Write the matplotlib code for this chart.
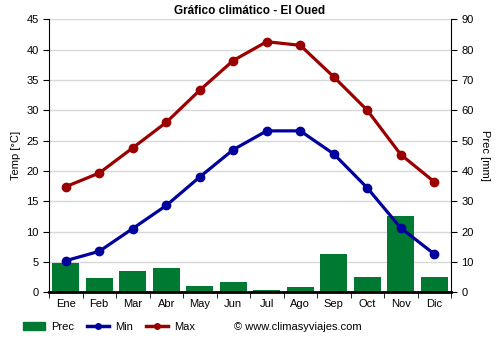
import matplotlib.pyplot as plt
import numpy as np
from matplotlib.patches import Patch
from matplotlib.lines import Line2D

plt.rcParams['font.family'] = ['Liberation Sans', 'DejaVu Sans']

months = ["Ene", "Feb", "Mar", "Abr", "May", "Jun", "Jul", "Ago", "Sep", "Oct", "Nov", "Dic"]
prec = [9.7, 4.7, 7.0, 8.0, 2.1, 3.4, 0.8, 1.7, 12.6, 5.0, 25.2, 5.0]
t_min = [5.2, 6.75, 10.5, 14.3, 19.0, 23.5, 26.6, 26.6, 22.8, 17.2, 10.6, 6.3]
t_max = [17.4, 19.65, 23.8, 28.0, 33.3, 38.2, 41.3, 40.7, 35.5, 30.0, 22.7, 18.2]

green = "#007a33"
blue = "#00009c"
red = "#9b0000"

fig = plt.figure(figsize=(5, 3.5), dpi=100)
ax = fig.add_axes([0.098, 0.165, 0.804, 0.78])
ax2 = ax.twinx()

x = np.arange(len(months))

ax2.bar(x, prec, width=0.8, color=green, zorder=2)
ax2.set_ylim(0, 90)
ax2.set_yticks(range(0, 91, 10))
ax2.set_ylabel("Prec [mm]", fontsize=8, rotation=270, labelpad=12)

ax.set_zorder(ax2.get_zorder() + 1)
ax.patch.set_visible(False)
ax2.set_zorder(0)

ax.plot(x, t_min, color=blue, lw=2.3, marker="o", ms=6, zorder=3)
ax.plot(x, t_max, color=red, lw=2.3, marker="o", ms=6, zorder=3)

ax.set_xlim(-0.5, 11.5)
ax.set_ylim(0, 45)
ax.set_yticks(range(0, 46, 5))
ax.set_xticks(x)
ax.set_xticklabels(months)
ax.set_xticks(np.arange(-0.5, 12, 1), minor=True)
ax.tick_params(axis="x", which="major", length=0, labelsize=8, pad=5)
ax.tick_params(axis="x", which="minor", length=4, color="black")
ax.tick_params(axis="y", labelsize=8, length=4)
ax2.tick_params(axis="y", labelsize=8, length=4)
ax.set_ylabel("Temp [°C]", fontsize=8)

# grid drawn on the bar axes so it sits behind everything
ax2.set_xticks(np.arange(-0.5, 12, 1), minor=True)
ax2.grid(True, which="minor", axis="x", color="#d8d8d8", lw=1, zorder=0)
for v in range(5, 46, 5):
    ax2.axhline(v * 2, color="#d8d8d8", lw=1, zorder=0)

for a in (ax, ax2):
    a.spines["top"].set_visible(False)
ax.spines["bottom"].set_linewidth(2)
ax.spines["right"].set_visible(False)
ax2.spines["left"].set_visible(False)
ax2.spines["bottom"].set_visible(False)

ax.set_title("Gráfico climático - El Oued", fontsize=8.5, fontweight="bold", pad=4)

handles = [
    Patch(color=green),
    Line2D([], [], color=blue, lw=2.5, marker="o", ms=4),
    Line2D([], [], color=red, lw=2.5, marker="o", ms=4),
]
fig.legend(handles, ["Prec", "Min", "Max"], loc="center left", bbox_to_anchor=(0.046, 0.066),
           ncol=3, frameon=False, fontsize=8, handlelength=2.0, handletextpad=0.5,
           columnspacing=1.2, borderaxespad=0, borderpad=0)
fig.text(0.468, 0.066, "© www.climasyviajes.com", fontsize=8, va="center")

fig.savefig("out.png", dpi=100)
